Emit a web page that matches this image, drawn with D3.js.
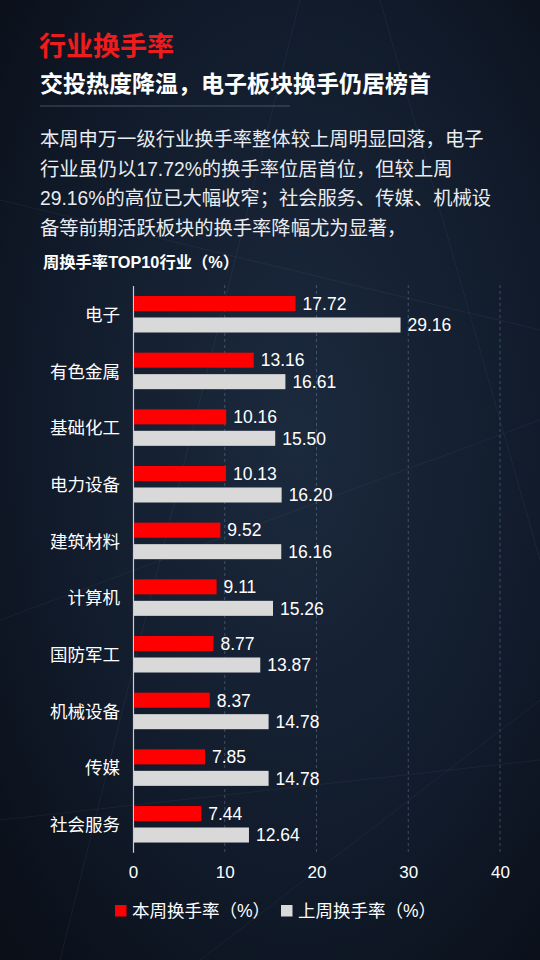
<!DOCTYPE html>
<html><head><meta charset="utf-8">
<script src="https://cdn.jsdelivr.net/npm/d3@7/dist/d3.min.js"></script>
<style>
html,body{margin:0;padding:0;background:#0d1522;}
svg{display:block;}
</style></head>
<body>
<svg id="c" width="540" height="960"></svg>
<script>
const categories = ["电子","有色金属","基础化工","电力设备","建筑材料","计算机","国防军工","机械设备","传媒","社会服务"];
const thisWeek = [17.72,13.16,10.16,10.13,9.52,9.11,8.77,8.37,7.85,7.44];
const lastWeek = [29.16,16.61,15.50,16.20,16.16,15.26,13.87,14.78,14.78,12.64];
const xTicks = [0,10,20,30,40];
const seriesNames = ["本周换手率（%）","上周换手率（%）"];
const title = "行业换手率";
const subtitle = "交投热度降温，电子板块换手仍居榜首";
const paragraph = [
  "本周申万一级行业换手率整体较上周明显回落，电子",
  "行业虽仍以17.72%的换手率位居首位，但较上周",
  "29.16%的高位已大幅收窄；社会服务、传媒、机械设",
  "备等前期活跃板块的换手率降幅尤为显著，"
];
const chartTitle = "周换手率TOP10行业（%）";

const FONT = "'Liberation Sans','Noto Sans CJK SC',sans-serif";
const svg = d3.select("#c");
const W = 540, H = 960;

// background
const defs = svg.append("defs");
const rg = defs.append("radialGradient").attr("id","bg").attr("cx","55%").attr("cy","45%").attr("r","75%");
rg.append("stop").attr("offset","0%").attr("stop-color","#1c2a3e");
rg.append("stop").attr("offset","60%").attr("stop-color","#111b2b");
rg.append("stop").attr("offset","100%").attr("stop-color","#0a0f18");
svg.append("rect").attr("width",W).attr("height",H).attr("fill","url(#bg)");

// faint decorative tech lines
const deco = svg.append("g").attr("stroke","#8fa6c8").attr("stroke-opacity",0.08).attr("stroke-width",1);
[[0,620,540,420],[60,960,300,0],[540,700,200,960],[0,200,540,330],[380,0,540,560],[0,820,540,760]].forEach(l=>{
  deco.append("line").attr("x1",l[0]).attr("y1",l[1]).attr("x2",l[2]).attr("y2",l[3]);
});

// header
svg.append("text").attr("x",39).attr("y",56).attr("fill","#ee1c1c")
  .attr("font-family",FONT).attr("font-weight","bold").attr("font-size",27).text(title);
svg.append("text").attr("x",40).attr("y",92).attr("fill","#ffffff")
  .attr("font-family",FONT).attr("font-weight","bold").attr("font-size",23).text(subtitle);
svg.append("line").attr("x1",40).attr("x2",290).attr("y1",106).attr("y2",106)
  .attr("stroke","#8a96a8").attr("stroke-opacity",0.45).attr("stroke-width",1);

svg.append("g").selectAll("text").data(paragraph).join("text")
  .attr("x",40).attr("y",(d,i)=>146+i*29.7)
  .attr("fill","#e9ecf0").attr("font-family",FONT).attr("font-size",19.3)
  .text(d=>d);

svg.append("text").attr("x",43).attr("y",268).attr("fill","#ffffff")
  .attr("font-family",FONT).attr("font-weight","bold").attr("font-size",16.3).text(chartTitle);

// scales
const x = d3.scaleLinear().domain([0,40]).range([133,500]);
const y = d3.scaleBand().domain(categories).range([285.5,852.2]).paddingInner(0).paddingOuter(0);
const sub = d3.scaleBand().domain(["cur","prev"]).range([10.5,47]).paddingInner(0.3);

// gridlines
svg.append("g").selectAll("line").data(xTicks.filter(t=>t>0)).join("line")
  .attr("x1",d=>x(d)).attr("x2",d=>x(d)).attr("y1",285).attr("y2",852)
  .attr("stroke","#9fb4d4").attr("stroke-opacity",0.32).attr("stroke-dasharray","3,3").attr("stroke-width",1);

// axis
const xAxis = d3.axisBottom(x).tickValues(xTicks).tickSize(0).tickPadding(0).tickFormat(d3.format("d"));
const ax = svg.append("g").attr("transform","translate(0,866)").call(xAxis);
ax.select(".domain").remove();
ax.selectAll("text").attr("fill","#ffffff").attr("font-family",FONT).attr("font-size",17).attr("dy","0.7em");

const yAxis = d3.axisLeft(y).tickSize(0).tickPadding(13);
const ay = svg.append("g").attr("transform",`translate(${x(0)},0)`).call(yAxis);
ay.select(".domain").attr("stroke","#c8ced8").attr("stroke-width",1.2);
ay.selectAll("text").attr("fill","#ffffff").attr("font-family",FONT).attr("font-size",17.5).attr("dy","0.4em");

// bars
const rows = categories.map((c,i)=>({c, cur:thisWeek[i], prev:lastWeek[i]}));
const colors = {cur:"#ff0000", prev:"#d9d9d9"};
const g = svg.append("g");
["cur","prev"].forEach(k=>{
  g.selectAll("rect."+k).data(rows).join("rect").attr("class",k)
    .attr("x",x(0)+1).attr("y",d=>y(d.c)+sub(k))
    .attr("width",d=>x(d[k])-x(0)-1).attr("height",sub.bandwidth())
    .attr("fill",colors[k]);
  g.selectAll("text."+k).data(rows).join("text").attr("class",k)
    .attr("x",d=>x(d[k])+7).attr("y",d=>y(d.c)+sub(k)+sub.bandwidth()/2)
    .attr("dy","0.36em").attr("fill","#ffffff").attr("font-family",FONT).attr("font-size",17.5)
    .text(d=>d[k].toFixed(2));
});

// legend
const leg = svg.append("g");
const legItems = [{n:seriesNames[0],c:colors.cur,x:115},{n:seriesNames[1],c:colors.prev,x:281}];
legItems.forEach(it=>{
  leg.append("rect").attr("x",it.x).attr("y",905).attr("width",11.5).attr("height",11.5).attr("fill",it.c);
  leg.append("text").attr("x",it.x+17).attr("y",911).attr("dy","0.36em").attr("fill","#ffffff")
    .attr("font-family",FONT).attr("font-size",17.5).text(it.n);
});
</script>
</body></html>
